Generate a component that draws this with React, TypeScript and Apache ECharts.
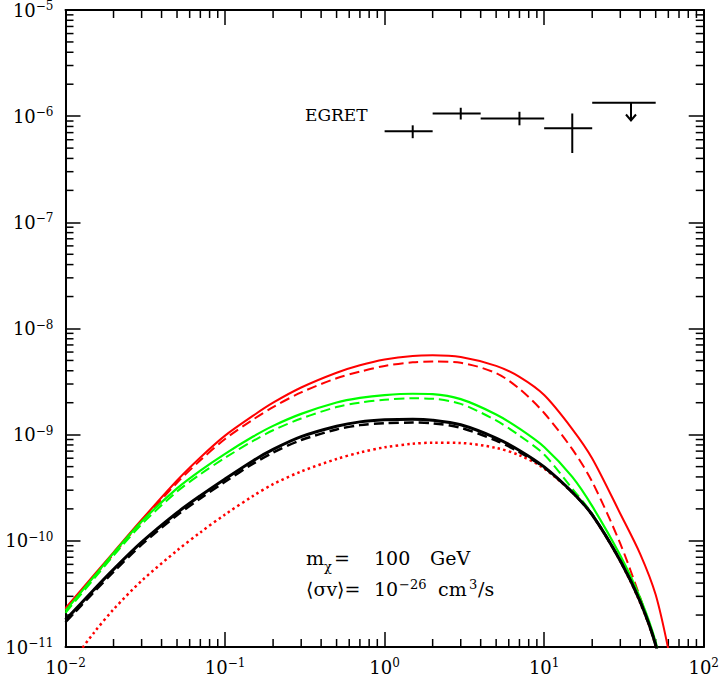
import React, { useEffect, useRef } from 'react';
import * as echarts from 'echarts';

// photon energy grid (GeV)
const energy = [0.01, 0.015, 0.02, 0.03, 0.05, 0.07, 0.1, 0.15, 0.2, 0.3, 0.5, 0.7, 1, 1.5, 2, 3, 5, 7, 10, 15, 20, 30, 40, 50, 60];

// flux curves
const redSolid = [2.32e-11, 4.72e-11, 7.8e-11, 1.58e-10, 3.7e-10, 6.1e-10, 9.8e-10, 1.51e-9, 2.0e-9, 2.78e-9, 3.83e-9, 4.5e-9, 5.1e-9, 5.52e-9, 5.6e-9, 5.4e-9, 4.45e-9, 3.5e-9, 2.36e-9, 1.13e-9, 5.97e-10, 1.8e-10, 7.5e-11, 3.1e-11, 9.5e-12];
const redDashed = [2.25e-11, 4.58e-11, 7.5e-11, 1.52e-10, 3.52e-10, 5.73e-10, 9.1e-10, 1.39e-9, 1.82e-9, 2.5e-9, 3.4e-9, 3.92e-9, 4.44e-9, 4.8e-9, 4.88e-9, 4.75e-9, 3.8e-9, 2.7e-9, 1.6e-9, 7.3e-10, 3.6e-10, 9.4e-11, 2.9e-11, 1.05e-11, 3.5e-12];
const redDotted = [6e-12, 1.35e-11, 2.26e-11, 4.2e-11, 8.1e-11, 1.2e-10, 1.77e-10, 2.65e-10, 3.42e-10, 4.5e-10, 5.9e-10, 6.78e-10, 7.6e-10, 8.2e-10, 8.4e-10, 8.35e-10, 7.5e-10, 6.4e-10, 4.8e-10, 2.85e-10, 1.75e-10, 6.4e-11, 2.6e-11, 1.02e-11, 2.7e-12];
const greenSolid = [2.2e-11, 4.56e-11, 7.66e-11, 1.52e-10, 3.12e-10, 4.59e-10, 6.6e-10, 9.6e-10, 1.21e-9, 1.57e-9, 2.01e-9, 2.22e-9, 2.36e-9, 2.43e-9, 2.41e-9, 2.16e-9, 1.55e-9, 1.14e-9, 7.66e-10, 4.0e-10, 2.12e-10, 7.26e-11, 2.89e-11, 1.11e-11, 3.1e-12];
const greenDashed = [2.1e-11, 4.35e-11, 7.25e-11, 1.43e-10, 2.91e-10, 4.24e-10, 6.05e-10, 8.75e-10, 1.1e-9, 1.42e-9, 1.82e-9, 2.0e-9, 2.13e-9, 2.2e-9, 2.18e-9, 1.95e-9, 1.36e-9, 9.8e-10, 6.5e-10, 3.1e-10, 1.8e-10, 6.5e-11, 2.65e-11, 1.03e-11, 2.6e-12];
const blackSolid = [1.8e-11, 3.44e-11, 5.38e-11, 9.7e-11, 1.84e-10, 2.66e-10, 3.83e-10, 5.69e-10, 7.26e-10, 9.57e-10, 1.2e-9, 1.32e-9, 1.38e-9, 1.4e-9, 1.37e-9, 1.24e-9, 9.3e-10, 7.1e-10, 4.97e-10, 2.87e-10, 1.76e-10, 6.5e-11, 2.67e-11, 1.04e-11, 2.9e-12];
const blackDashed = [1.71e-11, 3.27e-11, 5.1e-11, 9.2e-11, 1.74e-10, 2.51e-10, 3.6e-10, 5.33e-10, 6.78e-10, 8.9e-10, 1.12e-9, 1.23e-9, 1.28e-9, 1.3e-9, 1.28e-9, 1.16e-9, 8.8e-10, 6.85e-10, 4.9e-10, 2.87e-10, 1.76e-10, 6.5e-11, 2.67e-11, 1.04e-11, 2.9e-12];

// EGRET points
const egretLo = [1, 2, 4, 10, 20];
const egretHi = [2, 4, 10, 20, 50];
const egretMid = [1.5, 3, 7, 15, 35];
const egretFlux = [7.2e-7, 1.06e-6, 9.5e-7, 7.7e-7, 1.34e-6];
const egretErrLo = [6.2e-7, 9.3e-7, 8.2e-7, 4.5e-7, 9.1e-7];
const egretErrHi = [8.2e-7, 1.2e-6, 1.1e-6, 1.06e-6, 1.34e-6];
const egretUpper = [false, false, false, false, true];

// axes
const X_MIN = 0.01;
const X_MAX = 100;
const Y_MIN = 1e-11;
const Y_MAX = 1e-5;
const minorSteps = [2, 3, 4, 5, 6, 7, 8, 9];
const xDecades = [0.01, 0.1, 1, 10];
const yDecades = [1e-11, 1e-10, 1e-9, 1e-8, 1e-7, 1e-6];

const FONT = '"DejaVu Serif", "Liberation Serif", serif';

const pow10Label = (v: number) => {
  const e = Math.round(Math.log10(v));
  return `{b|10}{s|${e < 0 ? '\u2212' + -e : e}}`;
};

const App: React.FC = () => {
  const chartRef = useRef<HTMLDivElement>(null);

  useEffect(() => {
    if (!chartRef.current) return;
    const chart = echarts.init(chartRef.current, null, { renderer: 'svg' });

    const labelRich = {
      b: { fontSize: 18, fontFamily: FONT, color: '#000', lineHeight: 20 },
      s: { fontSize: 12, fontFamily: FONT, color: '#000', lineHeight: 12, verticalAlign: 'top' },
    };
    const axisLine = { show: true, onZero: false, lineStyle: { color: '#000', width: 2 } };
    const majorTick = { show: true, inside: true, length: 15, lineStyle: { color: '#000', width: 1.5 } };

    const xMinor = xDecades.flatMap((d) => minorSteps.map((m) => m * d));
    const yMinor = yDecades.flatMap((d) => minorSteps.map((m) => m * d));

    const curve = (name: string, ys: number[], color: string, width: number, type: any) => ({
      name,
      type: 'line',
      data: energy.map((x, i) => [x, ys[i]]),
      showSymbol: false,
      symbol: 'none',
      smooth: 0.3,
      clip: true,
      lineStyle: { color, width, type },
    });

    const txt = (size: number, extra: any = {}) => ({ fontSize: size, fontFamily: FONT, fill: '#000', ...extra });

    const option: any = {
      animation: false,
      backgroundColor: '#fff',
      grid: { left: 65.5, right: 17, top: 7, bottom: 29 },
      xAxis: [
        {
          type: 'log', logBase: 10, min: X_MIN, max: X_MAX,
          axisLine, axisTick: majorTick, splitLine: { show: false },
          axisLabel: { margin: 10, formatter: pow10Label, rich: labelRich },
        },
        {
          type: 'log', logBase: 10, min: X_MIN, max: X_MAX, position: 'top',
          axisLine, axisTick: majorTick, splitLine: { show: false }, axisLabel: { show: false },
        },
      ],
      yAxis: [
        {
          type: 'log', logBase: 10, min: Y_MIN, max: Y_MAX,
          axisLine, axisTick: majorTick, splitLine: { show: false },
          axisLabel: { margin: 12, formatter: pow10Label, rich: labelRich },
        },
        {
          type: 'log', logBase: 10, min: Y_MIN, max: Y_MAX, position: 'right',
          axisLine, axisTick: majorTick, splitLine: { show: false }, axisLabel: { show: false },
        },
      ],
      series: [
        {
          // minor ticks, bottom and top
          type: 'custom',
          silent: true,
          data: xMinor.map((v) => [v, Y_MIN]),
          renderItem: (params: any, api: any) => {
            const p = api.coord([api.value(0), Y_MIN]);
            const cs = params.coordSys;
            const st = { stroke: '#000', lineWidth: 1.5 };
            return {
              type: 'group',
              children: [
                { type: 'line', shape: { x1: p[0], y1: cs.y + cs.height, x2: p[0], y2: cs.y + cs.height - 8 }, style: st },
                { type: 'line', shape: { x1: p[0], y1: cs.y, x2: p[0], y2: cs.y + 8 }, style: st },
              ],
            };
          },
        },
        {
          // minor ticks, left and right
          type: 'custom',
          silent: true,
          data: yMinor.map((v) => [X_MIN, v]),
          renderItem: (params: any, api: any) => {
            const p = api.coord([X_MIN, api.value(1)]);
            const cs = params.coordSys;
            const st = { stroke: '#000', lineWidth: 1.5 };
            return {
              type: 'group',
              children: [
                { type: 'line', shape: { x1: cs.x, y1: p[1], x2: cs.x + 8, y2: p[1] }, style: st },
                { type: 'line', shape: { x1: cs.x + cs.width, y1: p[1], x2: cs.x + cs.width - 8, y2: p[1] }, style: st },
              ],
            };
          },
        },
        curve('red dotted', redDotted, '#ff0000', 2.5, [2.5, 3.2]),
        curve('red dashed', redDashed, '#ff0000', 2, [10, 5]),
        curve('red', redSolid, '#ff0000', 2, 'solid'),
        curve('green dashed', greenDashed, '#00ff00', 2, [10, 5]),
        curve('green', greenSolid, '#00ff00', 2.2, 'solid'),
        curve('black dashed', blackDashed, '#000000', 2.5, [10, 5]),
        curve('black', blackSolid, '#000000', 3, 'solid'),
        {
          type: 'custom',
          name: 'EGRET',
          data: egretMid.map((m, i) => [m, egretFlux[i]]),
          renderItem: (params: any, api: any) => {
            const i = params.dataIndex;
            const c = api.coord([egretMid[i], egretFlux[i]]);
            const l = api.coord([egretLo[i], egretFlux[i]]);
            const r = api.coord([egretHi[i], egretFlux[i]]);
            const lo = api.coord([egretMid[i], egretErrLo[i]]);
            const hi = api.coord([egretMid[i], egretErrHi[i]]);
            const st = { stroke: '#000', lineWidth: 2 };
            const children: any[] = [
              { type: 'line', shape: { x1: l[0], y1: c[1], x2: r[0], y2: c[1] }, style: st },
              { type: 'line', shape: { x1: c[0], y1: hi[1], x2: c[0], y2: lo[1] }, style: st },
            ];
            if (egretUpper[i]) {
              children.push({
                type: 'polyline',
                shape: { points: [[c[0] - 5, lo[1] - 6], [c[0], lo[1]], [c[0] + 5, lo[1] - 6]] },
                style: { stroke: '#000', lineWidth: 2, fill: null },
              });
            }
            return { type: 'group', children };
          },
        },
      ],
      graphic: [
        {
          type: 'text', x: 305, y: 115,
          style: { text: 'EGRET', ...txt(17), verticalAlign: 'middle' },
        },
        {
          type: 'text', x: 306, y: 558,
          style: {
            text: '{m|m}{sub|\u03c7}{eq|=}{n|100}{u|GeV}',
            verticalAlign: 'middle',
            rich: {
              m: txt(19, { lineHeight: 22 }),
              sub: txt(13, { verticalAlign: 'bottom', padding: [16, 0, 0, 0], width: 10 }),
              eq: txt(19, { lineHeight: 22, width: 40 }),
              n: txt(19, { lineHeight: 22, width: 56 }),
              u: txt(19, { lineHeight: 22 }),
            },
          },
        },
        {
          type: 'text', x: 306, y: 589,
          style: {
            text: '{a|\u27e8\u03c3v\u27e9=}{n|10}{s|\u221226}{c|cm}{s3|3}{t|/s}',
            verticalAlign: 'middle',
            rich: {
              a: txt(19, { lineHeight: 22, width: 68 }),
              n: txt(19, { lineHeight: 22, width: 25 }),
              s: txt(13, { lineHeight: 13, verticalAlign: 'top', width: 39 }),
              c: txt(19, { lineHeight: 22, width: 31 }),
              s3: txt(13, { lineHeight: 13, verticalAlign: 'top', width: 9 }),
              t: txt(19, { lineHeight: 22 }),
            },
          },
        },
      ],
    };

    chart.setOption(option);
    return () => chart.dispose();
  }, []);

  return (
    <div
      ref={chartRef}
      style={{ position: 'fixed', left: 0, top: 0, width: 722, height: 676, background: '#fff' }}
    />
  );
};

export default App;
